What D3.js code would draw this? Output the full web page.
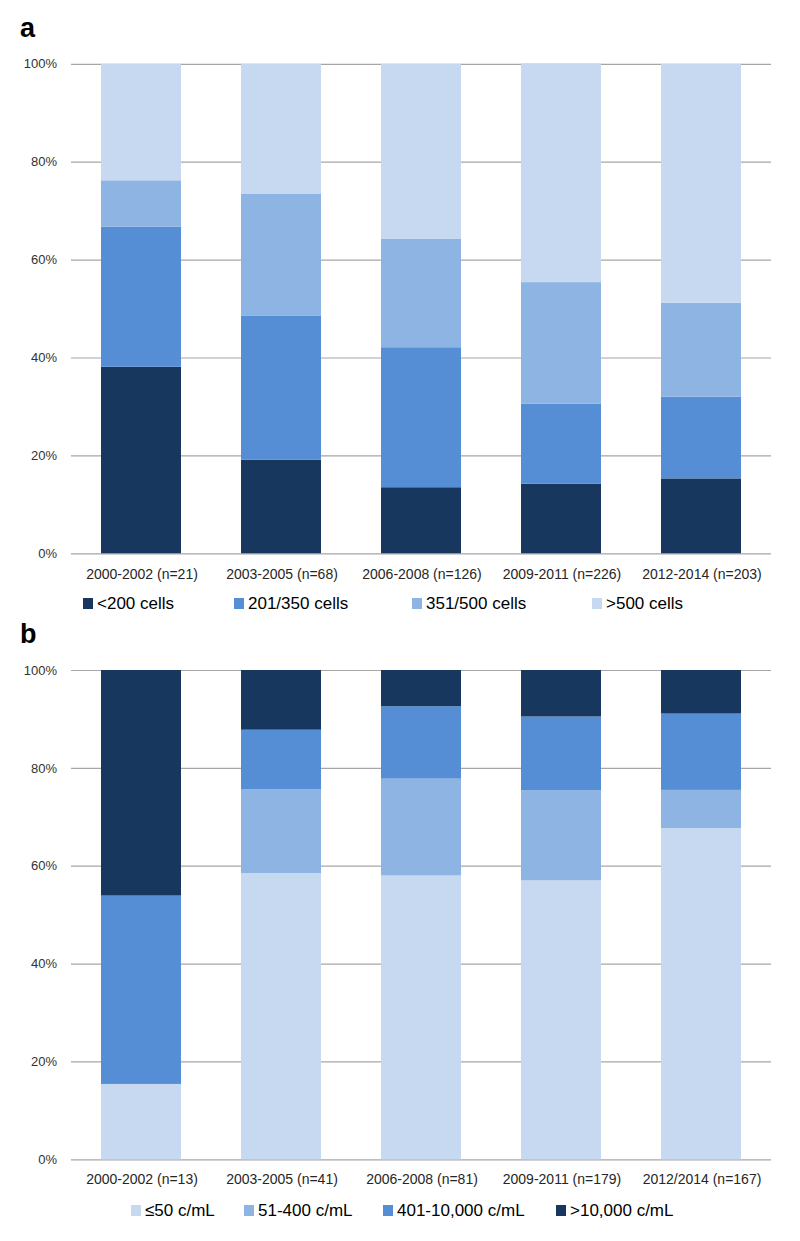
<!DOCTYPE html>
<html>
<head>
<meta charset="utf-8">
<script src="https://cdn.jsdelivr.net/npm/d3@7"></script>
<style>
  html, body { margin: 0; padding: 0; background: #ffffff; }
  svg { display: block; }
</style>
</head>
<body>
<svg id="chart" width="800" height="1241"></svg>
<script>
// ---------- Data ----------
const categoriesA = ["2000-2002 (n=21)", "2003-2005 (n=68)", "2006-2008 (n=126)", "2009-2011 (n=226)", "2012-2014 (n=203)"];
const seriesNamesA = ["<200 cells", "201/350 cells", "351/500 cells", ">500 cells"];
const cd4Below200 = [38.1, 19.1, 13.5, 14.2, 15.3];
const cd4From201To350 = [28.6, 29.4, 28.6, 16.4, 16.7];
const cd4From351To500 = [9.5, 25.0, 22.2, 24.8, 19.2];
const cd4Above500 = [23.8, 26.5, 35.7, 44.7, 48.8];

const categoriesB = ["2000-2002 (n=13)", "2003-2005 (n=41)", "2006-2008 (n=81)", "2009-2011 (n=179)", "2012/2014 (n=167)"];
const seriesNamesB = ["≤50 c/mL", "51-400 c/mL", "401-10,000 c/mL", ">10,000 c/mL"];
const vlUpTo50 = [15.4, 58.5, 58.0, 57.0, 67.7];
const vlFrom51To400 = [0, 17.1, 19.8, 18.4, 7.8];
const vlFrom401To10000 = [38.5, 12.2, 14.8, 15.1, 15.6];
const vlAbove10000 = [46.1, 12.2, 7.4, 9.5, 8.9];

const yTicks = [0, 20, 40, 60, 80, 100];

// ---------- Style ----------
const colorsA = ["#17375E", "#558ED5", "#8EB4E3", "#C6D9F1"];
const colorsB = ["#C6D9F1", "#8EB4E3", "#558ED5", "#17375E"];
const font = "'Liberation Sans', Arial, sans-serif";

const svg = d3.select("#chart");

function drawPanel(opts) {
  const { letter, letterY, top, bottom, categories, seriesNames, seriesData, colors, catLabelY, legendY, legendX } = opts;

  const x = d3.scaleBand()
    .domain(categories)
    .range([71, 771])
    .paddingInner(3 / 7)
    .paddingOuter(1.5 / 7);

  const y = d3.scaleLinear().domain([0, 100]).range([bottom, top]);

  const g = svg.append("g");

  // panel letter
  g.append("text")
    .attr("x", 20).attr("y", letterY)
    .attr("font-family", font)
    .attr("font-weight", "bold")
    .attr("font-size", 27)
    .attr("fill", "#000")
    .text(letter);

  // gridlines + y axis labels via d3 axis
  const yAxis = d3.axisLeft(y)
    .tickValues(yTicks)
    .tickSize(-(771 - 71))
    .tickFormat(d => d + "%");

  const ag = g.append("g")
    .attr("transform", "translate(71,0)")
    .call(yAxis);
  ag.select(".domain").remove();
  ag.selectAll(".tick line")
    .attr("stroke", "#a6a6a6")
    .attr("stroke-width", 1.2);
  ag.selectAll(".tick text")
    .attr("x", -14)
    .attr("font-family", font)
    .attr("font-size", 13)
    .attr("fill", "#333333");

  // stacked bars
  const rows = categories.map((c, i) => {
    const r = { cat: c };
    seriesNames.forEach((s, k) => { r[s] = seriesData[k][i]; });
    return r;
  });
  const stacked = d3.stack().keys(seriesNames)(rows);

  g.selectAll("g.series")
    .data(stacked)
    .join("g")
    .attr("class", "series")
    .attr("fill", (d, i) => colors[i])
    .selectAll("rect")
    .data(d => d)
    .join("rect")
    .attr("x", d => x(d.data.cat))
    .attr("width", x.bandwidth())
    .attr("y", d => y(d[1]))
    .attr("height", d => Math.max(0, y(d[0]) - y(d[1])));

  // category labels
  g.selectAll("text.cat")
    .data(categories)
    .join("text")
    .attr("class", "cat")
    .attr("x", d => x(d) + x.bandwidth() / 2 + 1)
    .attr("y", catLabelY)
    .attr("text-anchor", "middle")
    .attr("font-family", font)
    .attr("font-size", 14)
    .attr("fill", "#262626")
    .text(d => d);

  // legend
  const lg = g.append("g");
  seriesNames.forEach((s, i) => {
    const lx = legendX[i];
    lg.append("rect")
      .attr("x", lx).attr("y", legendY - 11)
      .attr("width", 10).attr("height", 11)
      .attr("fill", colors[i]);
    lg.append("text")
      .attr("x", lx + 14).attr("y", legendY)
      .attr("font-family", font)
      .attr("font-size", 17)
      .attr("fill", "#000")
      .text(s);
  });
}

drawPanel({
  letter: "a", letterY: 37,
  top: 63.8, bottom: 553.3,
  categories: categoriesA,
  seriesNames: seriesNamesA,
  seriesData: [cd4Below200, cd4From201To350, cd4From351To500, cd4Above500],
  colors: colorsA,
  catLabelY: 579,
  legendY: 609,
  legendX: [83, 234, 412, 592]
});

drawPanel({
  letter: "b", letterY: 643,
  top: 670, bottom: 1159.3,
  categories: categoriesB,
  seriesNames: seriesNamesB,
  seriesData: [vlUpTo50, vlFrom51To400, vlFrom401To10000, vlAbove10000],
  colors: colorsB,
  catLabelY: 1184,
  legendY: 1216,
  legendX: [131, 244, 383, 556]
});
</script>
</body>
</html>
